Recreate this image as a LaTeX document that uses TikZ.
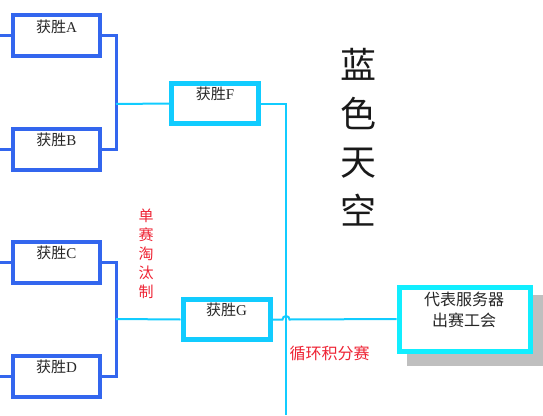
\documentclass[tikz,border=0pt]{standalone}
\usepackage{fontspec}
\newfontfamily\cjk{Noto Sans CJK SC}
\newfontfamily\lat{Liberation Serif}
\definecolor{bblue}{HTML}{3366EE}
\definecolor{bcyan}{HTML}{11CCFF}
\definecolor{fcyan}{HTML}{11EEFF}
\definecolor{rtext}{HTML}{EE2233}
\begin{document}
\begin{tikzpicture}[x=1pt,y=-1pt,
  bluebox/.style={draw=bblue,line width=4pt,minimum width=87pt,minimum height=41pt,inner sep=0pt},
  cyanbox/.style={draw=bcyan,line width=5pt,minimum width=87pt,minimum height=40pt,inner sep=0pt},
  bluel/.style={draw=bblue,line width=3pt},
  cyanl/.style={draw=bcyan,line width=2pt},
  lbl/.style={font=\cjk\fontsize{15}{15}\selectfont,text=black!85}]
\useasboundingbox (0,0) rectangle (543,415);
% boxes
\node[bluebox] (A) at (56.5,35.5) {};
\node[bluebox] (B) at (56.5,149.5) {};
\node[bluebox] (C) at (56.5,262.5) {};
\node[bluebox] (D) at (56.5,376) {};
\node[cyanbox] (F) at (215,103.5) {};
\node[cyanbox] (G) at (226.5,319.5) {};
% final box with shadow
\fill[black!25] (407,295) rectangle (543,366);
\node[draw=fcyan,line width=5pt,fill=white,minimum width=131pt,minimum height=64pt,inner sep=0pt] (H) at (464.5,319) {};
% labels
\node[lbl] (tA) at (56.5,27) {获胜{\lat A}};
\node[lbl] (tB) at (56.5,140) {获胜{\lat B}};
\node[lbl] (tC) at (56.5,253) {获胜{\lat C}};
\node[lbl] (tD) at (56.5,367) {获胜{\lat D}};
\node[lbl] (tF) at (215,94) {获胜{\lat F}};
\node[lbl] (tG) at (226.5,310) {获胜{\lat G}};
\node[lbl,align=center,font=\cjk\fontsize{16}{21}\selectfont] (tH) at (464,310) {代表服务器\\出赛工会};
% coordinates
\coordinate (jAB) at (116,104);
\coordinate (jCD) at (116,319);
\coordinate (vtop) at (286,103.5);
\coordinate (vbot) at (286,415);
\coordinate (l1) at (0,35.5);
\coordinate (l2) at (0,149.5);
\coordinate (l3) at (0,262.5);
\coordinate (l4) at (0,376);
% left stubs
\draw[bluel] (l1) -- (A.west);
\draw[bluel] (l2) -- (B.west);
\draw[bluel] (l3) -- (C.west);
\draw[bluel] (l4) -- (D.west);
% brackets
\draw[bluel] (A.east) -| (jAB) |- (B.east);
\draw[bluel] (C.east) -| (jCD) |- (D.east);
\draw[cyanl] (jAB) -- (F.west);
\draw[cyanl] (jCD) -- (G.west);
% F to vertical
\draw[cyanl] (F.east) -- (vtop) -- (vbot);
% G to final with hop
\draw[cyanl] (G.east) -- (282.5,319.5) arc[start angle=180,end angle=360,radius=3.5] -- (H.west);
% texts
\node[font=\cjk\fontsize{15}{19}\selectfont,text=rtext,align=center] (t1) at (146,254) {单\\赛\\淘\\汰\\制};
\node[font=\cjk\fontsize{16}{16}\selectfont,text=rtext,anchor=west] (t2) at (286,353) {循环积分赛};
\node[font=\cjk\fontsize{36}{48.5}\selectfont,text=black!90,align=center] (t3) at (358,137) {蓝\\色\\天\\空};
\end{tikzpicture}
\end{document}
